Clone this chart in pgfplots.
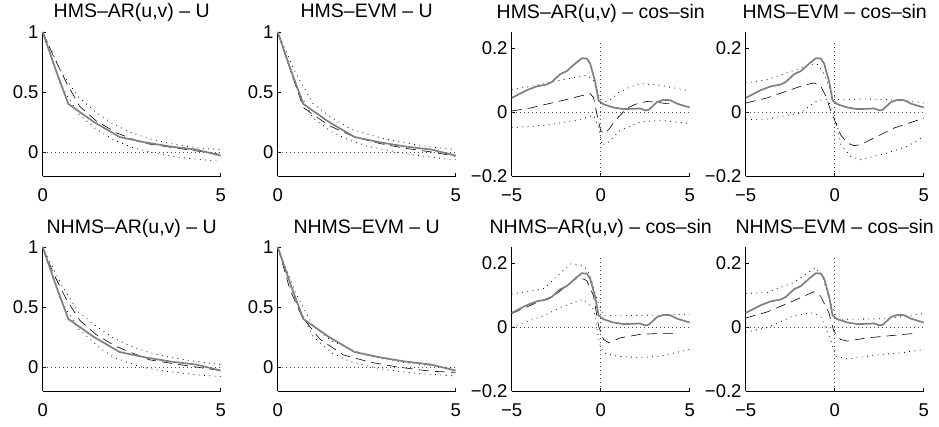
\documentclass[border=0pt]{standalone}
\usepackage{fontspec}
\setmainfont{Liberation Sans}
\usepackage{pgfplots}
\pgfplotsset{compat=1.18}
\definecolor{lgray}{RGB}{128,128,128}
\pgfplotsset{
 base/.style={scale only axis, width=178pt, height=144pt, anchor=south west,
  axis x line*=bottom, axis y line*=left, axis line style={-, line width=0.6pt},
  tick align=inside, major tick length=3pt, tick style={black, line width=0.5pt},
  clip=false,
  ticklabel style={font=\fontsize{18.5}{20}\selectfont},
  yticklabel style={anchor=east, inner sep=0pt, xshift=-4pt},
  xticklabel style={anchor=north, inner sep=0pt, yshift=-12.5pt},
 },
 upan/.style={base, xmin=0,xmax=5,ymin=-0.2,ymax=1, xtick={0,5}, xticklabels={0,5}, ytick={0,0.5,1}, yticklabels={0,0.5,1}},
 cpan/.style={base, xmin=-5,xmax=5,ymin=-0.2,ymax=0.25, xtick={-5,0,5}, xticklabels={−5,0,5}, ytick={-0.2,0,0.2}, yticklabels={−0.2,0,0.2}},
 emp/.style={lgray, line width=1.7pt},
 mod/.style={black, line width=0.6pt, dash pattern=on 10pt off 6pt},
 band/.style={black, line width=0.8pt, dash pattern=on 0.8pt off 4.5pt},
 zero/.style={black!70, line width=0.6pt, dash pattern=on 0.7pt off 3.3pt},
}
\newcommand{\ttl}[1]{\node[anchor=base, inner sep=0pt, yshift=14pt, font=\fontsize{19.5}{21}\selectfont] at (rel axis cs:0.5,1) {#1};}
\newcommand{\grayU}{\addplot[emp] coordinates {(0,1)(0.36,0.69)(0.72,0.40)(1.44,0.25)(2.16,0.125)(2.88,0.08)(3.6,0.045)(4.32,0.02)(5,-0.03)};}
\newcommand{\grayC}{\addplot[emp] coordinates {(-5,0.044)(-4.16,0.068)(-3.6,0.080)(-3.03,0.086)(-2.75,0.094)(-2.28,0.118)(-1.9,0.128)(-1.44,0.151)(-1.06,0.168)(-0.78,0.167)(-0.59,0.151)(-0.31,0.094)(-0.12,0.036)(0.16,0.024)(0.72,0.014)(1.29,0.009)(1.8,0.010)(2.22,0.011)(2.5,0.005)(2.7,0.007)(3.16,0.031)(3.53,0.038)(3.9,0.037)(4.29,0.026)(5,0.014)};}
\newcommand{\zeroU}{\addplot[zero] coordinates {(0,0)(5,0)};}
\newcommand{\zeroC}{\addplot[zero] coordinates {(-5,0)(5,0)}; \addplot[zero] coordinates {(0,-0.2)(0,0.22)};}
\begin{document}
\begin{tikzpicture}
% ---------- top row ----------
\begin{axis}[upan, at={(42.7pt,250pt)}]
\zeroU
\addplot[band] coordinates {(0,1)(0.5,0.68)(1,0.46)(1.5,0.33)(2,0.23)(2.5,0.16)(3,0.11)(3.5,0.075)(4,0.05)(4.5,0.03)(5,0.02)};
\addplot[band] coordinates {(0,1)(0.5,0.56)(1,0.32)(1.5,0.19)(2,0.10)(2.5,0.04)(3,0.0)(3.5,-0.03)(4,-0.05)(4.5,-0.065)(5,-0.078)};
\addplot[mod] coordinates {(0,1)(0.3,0.8)(0.67,0.575)(1.04,0.38)(1.5,0.26)(2.07,0.16)(2.8,0.075)(3.74,0.033)(4.77,-0.01)(5,-0.02)};
\grayU
\ttl{HMS–AR(u,v) – U}
\end{axis}
\begin{axis}[upan, at={(277.7pt,250pt)}]
\zeroU
\addplot[band] coordinates {(0,1)(0.5,0.66)(1,0.40)(1.5,0.29)(2,0.20)(2.5,0.15)(3,0.11)(3.5,0.08)(4,0.055)(4.5,0.035)(5,0.02)};
\addplot[band] coordinates {(0,1)(0.5,0.55)(1,0.28)(1.5,0.17)(2,0.10)(2.5,0.05)(3,0.02)(3.5,-0.01)(4,-0.03)(4.5,-0.05)(5,-0.065)};
\addplot[mod] coordinates {(0,1)(0.36,0.68)(0.72,0.37)(1.44,0.22)(2.16,0.125)(2.88,0.07)(3.6,0.03)(4.32,0.0)(5,-0.035)};
\grayU
\ttl{HMS–EVM – U}
\end{axis}
\begin{axis}[cpan, at={(511.7pt,250pt)}]
\zeroC
\addplot[band] coordinates {(-5,0.07)(-4.16,0.078)(-3,0.09)(-2.28,0.099)(-1.5,0.108)(-0.78,0.115)(-0.4,0.10)(-0.1,0.05)(0.2,0.03)(0.6,0.04)(1.0,0.06)(1.57,0.076)(2.22,0.089)(3.35,0.083)(5,0.066)};
\addplot[band] coordinates {(-5,-0.049)(-3.2,-0.042)(-1.34,-0.026)(-0.4,-0.01)(-0.1,-0.05)(0.07,-0.105)(0.35,-0.099)(1.1,-0.057)(2.22,-0.031)(3.35,-0.026)(5,-0.036)};
\addplot[mod] coordinates {(-5,0.003)(-4,0.012)(-3,0.025)(-2,0.038)(-1,0.052)(-0.6,0.058)(-0.4,0.045)(-0.2,-0.01)(0.0,-0.058)(0.2,-0.068)(0.45,-0.055)(0.8,-0.028)(1.47,0.012)(2.0,0.025)(2.6,0.033)(3.2,0.03)(3.72,0.026)(4.2,0.026)};
\grayC
\ttl{HMS–AR(u,v) – cos–sin}
\end{axis}
\begin{axis}[cpan, at={(745.7pt,250pt)}]
\zeroC
\addplot[band] coordinates {(-5,0.091)(-3.8,0.101)(-1.93,0.137)(-1.36,0.148)(-1.0,0.15)(-0.6,0.12)(-0.2,0.06)(0.1,0.04)(0.5,0.038)(1.46,0.041)(2.96,0.039)(4.47,0.033)(5,0.028)};
\addplot[band] coordinates {(-5,-0.024)(-3.8,-0.022)(-1.93,-0.003)(-1.0,0.035)(-0.5,0.04)(-0.2,0.02)(0.15,-0.045)(0.33,-0.1)(0.9,-0.139)(1.46,-0.149)(2.96,-0.128)(4.1,-0.107)(5,-0.076)};
\addplot[mod] coordinates {(-5,0.028)(-3.8,0.044)(-1.93,0.080)(-1.18,0.091)(-0.8,0.082)(-0.5,0.05)(-0.24,0.007)(0.33,-0.071)(0.71,-0.097)(1.08,-0.105)(1.46,-0.102)(2.21,-0.081)(3.34,-0.05)(4.47,-0.029)(5,-0.019)};
\grayC
\ttl{HMS–EVM – cos–sin}
\end{axis}
% ---------- bottom row ----------
\begin{axis}[upan, at={(42.7pt,35pt)}]
\zeroU
\addplot[band] coordinates {(0,1)(0.5,0.70)(1,0.46)(1.5,0.34)(2,0.24)(2.5,0.17)(3,0.12)(3.5,0.085)(4,0.06)(4.5,0.04)(5,0.02)};
\addplot[band] coordinates {(0,1)(0.5,0.56)(1,0.32)(1.6,0.16)(2,0.08)(2.7,0.005)(3.3,-0.03)(3.9,-0.05)(4.5,-0.07)(5,-0.08)};
\addplot[mod] coordinates {(0,1)(0.3,0.78)(0.67,0.56)(1.04,0.39)(1.5,0.27)(2.07,0.17)(3,0.06)(3.84,0.02)(4.77,-0.02)(5,-0.03)};
\grayU
\ttl{NHMS–AR(u,v) – U}
\end{axis}
\begin{axis}[upan, at={(277.7pt,35pt)}]
\zeroU
\addplot[band] coordinates {(0,1)(0.5,0.62)(1,0.34)(1.5,0.22)(2,0.15)(2.5,0.10)(3,0.065)(3.5,0.04)(4,0.02)(4.5,0.005)(5,-0.01)};
\addplot[band] coordinates {(0,1)(0.5,0.55)(1,0.25)(1.5,0.12)(2,0.05)(2.5,0.01)(3,-0.02)(3.5,-0.04)(4,-0.055)(4.5,-0.065)(5,-0.075)};
\addplot[mod] coordinates {(0,1)(0.35,0.64)(0.68,0.42)(1.19,0.23)(1.85,0.10)(2.6,0.04)(3.36,0.0)(4.3,-0.035)(5,-0.045)};
\grayU
\ttl{NHMS–EVM – U}
\end{axis}
\begin{axis}[cpan, at={(511.7pt,35pt)}]
\zeroC
\addplot[band] coordinates {(-5,0.103)(-3.2,0.12)(-1.72,0.197)(-0.97,0.192)(-0.6,0.165)(-0.22,0.087)(0.16,0.035)(0.9,0.035)(2.6,0.037)(5,0.04)};
\addplot[band] coordinates {(-5,0.0)(-3.2,0.035)(-2.28,0.061)(-0.97,0.087)(-0.4,0.055)(-0.03,-0.06)(0.16,-0.081)(0.9,-0.091)(2.22,-0.096)(3.35,-0.091)(5,-0.07)};
\addplot[mod] coordinates {(-5,0.042)(-3.6,0.076)(-2.65,0.097)(-1.9,0.129)(-1.44,0.15)(-0.97,0.15)(-0.78,0.145)(-0.4,0.097)(-0.12,0.003)(0.16,-0.039)(0.44,-0.049)(1.1,-0.034)(2.22,-0.023)(3.35,-0.02)(4.1,-0.02)};
\grayC
\ttl{NHMS–AR(u,v) – cos–sin}
\end{axis}
\begin{axis}[cpan, at={(745.7pt,35pt)}]
\zeroC
\addplot[band] coordinates {(-5,0.105)(-3.8,0.108)(-2.3,0.139)(-1.08,0.186)(-0.7,0.16)(-0.24,0.076)(0.14,0.024)(1.08,0.024)(2.96,0.026)(5,0.042)};
\addplot[band] coordinates {(-5,-0.016)(-3.8,-0.002)(-2.3,0.035)(-1.36,0.045)(-0.8,0.035)(-0.24,-0.039)(0.05,-0.091)(0.71,-0.10)(2.6,-0.086)(3.72,-0.081)(5,-0.07)};
\addplot[mod] coordinates {(-5,0.028)(-3.8,0.047)(-2.3,0.082)(-1.18,0.110)(-0.8,0.097)(-0.33,0.045)(-0.05,-0.013)(0.33,-0.039)(0.71,-0.044)(1.84,-0.034)(2.96,-0.028)(4.47,-0.02)};
\grayC
\ttl{NHMS–EVM – cos–sin}
\end{axis}
\pgfresetboundingbox
\useasboundingbox (0,0) rectangle (939pt,426pt);
\end{tikzpicture}
\end{document}
